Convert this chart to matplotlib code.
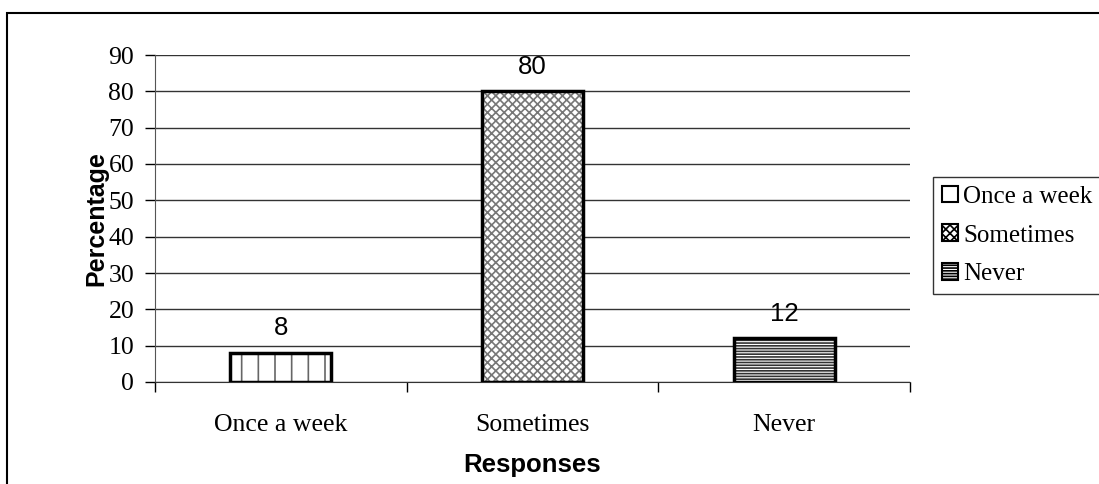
import matplotlib.pyplot as plt
import numpy as np
from matplotlib.patches import Rectangle

respuestas = ['Once a week', 'Sometimes', 'Never']
porcentajes = [8, 80, 12]
tramas = ['|', 'xxxx', '------']
colores_trama = ['#666666', '#777777', '#333333']
yticks = [0, 10, 20, 30, 40, 50, 60, 70, 80, 90]

serif = ['Liberation Serif', 'DejaVu Serif']
sans = ['Liberation Sans', 'DejaVu Sans']

plt.rcParams['hatch.linewidth'] = 1.2

fig = plt.figure(figsize=(10.99, 4.84), dpi=100)
ax = fig.add_axes([155 / 1099, 1 - 382 / 484, 755 / 1099, 327 / 484])

x = np.arange(len(respuestas))
# relleno con trama y luego el contorno negro encima
ax.bar(x, porcentajes, width=0.4, color='white', edgecolor=colores_trama,
       hatch=tramas, linewidth=0, zorder=2)
ax.bar(x, porcentajes, width=0.4, fill=False, edgecolor='black',
       linewidth=2.5, zorder=3)

for xi, v in zip(x, porcentajes):
    ax.text(xi, v + 3.5, str(v), ha='center', va='bottom',
            family=sans, fontsize=18.5)

ax.set_xlim(-0.5, len(respuestas) - 0.5)
ax.set_ylim(0, 90)
ax.set_yticks(yticks)
ax.set_yticklabels([str(t) for t in yticks], family=serif, fontsize=18.5)
ax.yaxis.grid(True, color='#333333', linewidth=1)
ax.set_axisbelow(True)

ax.set_xticks(x)
ax.set_xticklabels(respuestas, family=serif, fontsize=18.5)
ax.set_xticks(np.arange(len(respuestas) + 1) - 0.5, minor=True)
ax.tick_params(axis='x', which='major', length=0, pad=23)
ax.tick_params(axis='x', which='minor', length=7, width=1, direction='out')
ax.tick_params(axis='y', length=7, width=1, direction='out', pad=8)

for lado in ['top', 'right']:
    ax.spines[lado].set_visible(False)
ax.spines['left'].set_color('#555555')
ax.spines['bottom'].set_color('#333333')

ax.set_xlabel('Responses', family=sans, fontsize=18.5, fontweight='bold', labelpad=12)
ax.set_ylabel('Percentage', family=sans, fontsize=18, fontweight='bold', labelpad=0)

handles = [Rectangle((0, 0), 1, 1, facecolor='white', edgecolor='black',
                     hatch=h, linewidth=1.5) for h in tramas]
ley = fig.legend(handles, respuestas, loc='upper left',
                 bbox_to_anchor=(933 / 1099, 1 - 177 / 484),
                 prop={'family': serif, 'size': 18},
                 handlelength=0.65, handleheight=0.65, handletextpad=0.2,
                 labelspacing=0.66, borderpad=0.35, borderaxespad=0,
                 frameon=True, fancybox=False)
ley.get_frame().set_edgecolor('black')
ley.get_frame().set_linewidth(1)

# marco exterior del grafico
fig.patches.append(Rectangle((7 / 1099, -0.1), 1.2, 1.1 - 13 / 484,
                             transform=fig.transFigure, fill=False,
                             edgecolor='black', linewidth=1.5))

fig.savefig('out.png', dpi=100)
